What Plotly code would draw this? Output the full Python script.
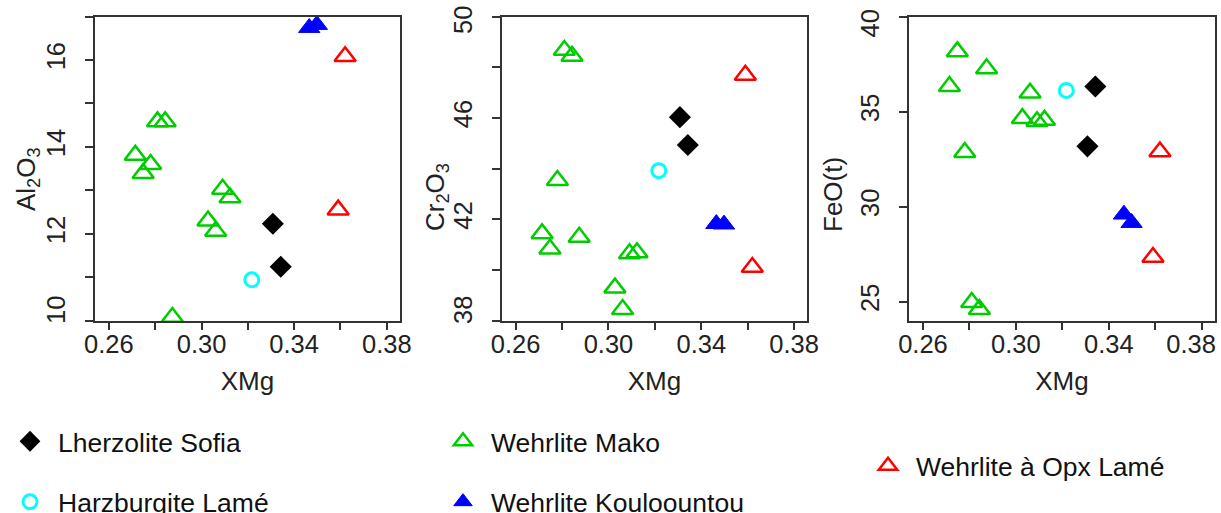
import plotly.graph_objects as go

# ---------------- data ----------------
groups = ["Lherzolite Sofia", "Harzburgite Lamé", "Wehrlite Mako",
          "Wehrlite Kouloountou", "Wehrlite à Opx Lamé"]

sofia_xmg = [0.3308, 0.3342]
sofia_al = [12.23, 11.24]
sofia_cr = [46.03, 44.93]
sofia_fe = [33.17, 36.32]

harz_xmg = [0.3217]
harz_al = [10.94]
harz_cr = [43.92]
harz_fe = [36.11]

mako_xmg = [0.2714, 0.2748, 0.2780, 0.2810, 0.2843, 0.2874, 0.3028, 0.3061, 0.3091, 0.3123]
mako_al = [13.81, 13.39, 13.60, 14.58, 14.58, 10.08, 12.30, 12.06, 13.03, 12.83]
mako_cr = [41.44, 40.83, 43.54, 48.67, 48.44, 41.30, 39.30, 38.45, 40.65, 40.69]
mako_fe = [36.33, 38.15, 32.86, 24.97, 24.60, 37.26, 34.64, 35.98, 34.48, 34.55]

koul_xmg = [0.3465, 0.3498]
koul_al = [16.74, 16.81]
koul_cr = [41.82, 41.80]
koul_fe = [29.59, 29.15]

opx_xmg = [0.3590, 0.3620]
opx_al = [12.55, 16.08]
opx_cr = [47.69, 40.11]
opx_fe = [27.34, 32.89]

x_tickvals = [0.26, 0.28, 0.30, 0.32, 0.34, 0.36, 0.38]
x_ticktext = ["0.26", "", "0.30", "", "0.34", "", "0.38"]
al_tickvals = [10, 11, 12, 13, 14, 15, 16, 17]
al_ticktext = ["10", "", "12", "", "14", "", "16", ""]
cr_tickvals = [38, 40, 42, 44, 46, 48, 50]
cr_ticktext = ["38", "", "42", "", "46", "", "50"]
fe_tickvals = [25, 30, 35, 40]
fe_ticktext = ["25", "30", "35", "40"]

y_titles = ["Al<sub>2</sub>O<sub>3</sub>", "Cr<sub>2</sub>O<sub>3</sub>", "FeO(t)"]
x_title = "XMg"

# ---------------- styles ----------------
FONT = "Liberation Sans, Arial, sans-serif"
NB = "\u00a0"
styles = {
    "Lherzolite Sofia": dict(symbol="diamond", size=17, color="black",
                             line=dict(width=0)),
    "Harzburgite Lamé": dict(symbol="circle-open", size=14, color="#00FFFF",
                             line=dict(width=3, color="#00FFFF")),
    "Wehrlite Mako": dict(symbol="triangle-up-open", size=18.5, color="#00CD00",
                          line=dict(width=2.5, color="#00CD00")),
    "Wehrlite Kouloountou": dict(symbol="triangle-up", size=18.5, color="#0000FF",
                                 line=dict(width=1, color="#0000FF")),
    "Wehrlite à Opx Lamé": dict(symbol="triangle-up-open", size=18.5, color="#FF0000",
                                line=dict(width=2.5, color="#FF0000")),
}
legend_of = {
    "Lherzolite Sofia": "legend", "Harzburgite Lamé": "legend",
    "Wehrlite Mako": "legend2", "Wehrlite Kouloountou": "legend2",
    "Wehrlite à Opx Lamé": "legend3",
}

data = {
    "Lherzolite Sofia": (sofia_xmg, [sofia_al, sofia_cr, sofia_fe]),
    "Harzburgite Lamé": (harz_xmg, [harz_al, harz_cr, harz_fe]),
    "Wehrlite Mako": (mako_xmg, [mako_al, mako_cr, mako_fe]),
    "Wehrlite Kouloountou": (koul_xmg, [koul_al, koul_cr, koul_fe]),
    "Wehrlite à Opx Lamé": (opx_xmg, [opx_al, opx_cr, opx_fe]),
}

fig = go.Figure()
axis_ids = [("x", "y"), ("x2", "y2"), ("x3", "y3")]
for p, (xa, ya) in enumerate(axis_ids):
    for g in groups:
        xs, ys = data[g]
        fig.add_trace(go.Scatter(
            x=xs, y=ys[p], mode="markers", name=g, xaxis=xa, yaxis=ya,
            marker=styles[g], cliponaxis=False, legendgroup=g,
            showlegend=(p == 0), legend=legend_of[g]))


def pad_y(labels, lo=0, hi=0):
    """Nudge end labels inward (rotated labels read bottom-to-top)."""
    out = list(labels)
    out[0] = NB * lo + out[0]
    out[-1] = out[-1] + NB * hi
    return out


W, H = 1221, 513
x_domains = [(95 / W, 400 / W), (501.7 / W, 807.3 / W), (909 / W, 1215 / W)]
y_domain = (1 - 320.7 / H, 1 - 16.5 / H)
xr = [0.2540, 0.3857]
y_ranges = [[10, 17], [38, 50], [24, 40]]
y_ticks = [(al_tickvals, pad_y(al_ticktext, lo=2)),
           (cr_tickvals, pad_y(cr_ticktext, lo=2, hi=2)),
           (fe_tickvals, pad_y(fe_ticktext, hi=3))]
x_ticks = [x_ticktext, x_ticktext, x_ticktext[:-1] + [x_ticktext[-1] + NB * 3]]
# y-title centres (px)
ytitle_pos = [(28, 179), (436, 197), (833, 195)]

TICKF = dict(family=FONT, size=25.5, color="#222")
TITLEF = dict(family=FONT, size=26, color="#222")
common = dict(showline=True, linecolor="#333", linewidth=1.5, mirror=True,
              ticks="outside", ticklen=8, tickwidth=1.5, tickcolor="#333",
              showgrid=False, zeroline=False, automargin=False,
              ticklabeloverflow="allow", tickfont=TICKF)

layout = dict(width=W, height=H, margin=dict(l=0, r=0, t=0, b=0, autoexpand=False),
              paper_bgcolor="white", plot_bgcolor="white",
              font=dict(family=FONT, size=25, color="#222"))
annotations = []
for i in range(3):
    sx = "" if i == 0 else str(i + 1)
    layout["xaxis" + sx] = dict(common, domain=list(x_domains[i]), range=xr,
                                anchor="y" + sx, tickmode="array",
                                tickvals=x_tickvals, ticktext=x_ticks[i],
                                ticklabelstandoff=-8,
                                title=dict(text=x_title, standoff=15, font=TITLEF))
    layout["yaxis" + sx] = dict(common, domain=list(y_domain), range=y_ranges[i],
                                anchor="x" + sx, tickmode="array",
                                tickvals=y_ticks[i][0], ticktext=y_ticks[i][1],
                                tickangle=-90, ticklabelstandoff=10)
    tx, ty = ytitle_pos[i]
    annotations.append(dict(text=y_titles[i], xref="paper", yref="paper",
                            x=tx / W, y=1 - ty / H, xanchor="center", yanchor="middle",
                            textangle=-90, showarrow=False, font=TITLEF))
layout["annotations"] = annotations

leg_common = dict(font=dict(family=FONT, size=26.5, color="#111"), bgcolor="rgba(0,0,0,0)",
                  borderwidth=0, itemwidth=46, tracegroupgap=23,
                  orientation="v", xanchor="left", yanchor="top",
                  itemclick=False, itemdoubleclick=False)
layout["legend"] = dict(leg_common, x=2 / W, y=1 - 417.5 / H)
layout["legend2"] = dict(leg_common, x=435 / W, y=1 - 417.5 / H)
layout["legend3"] = dict(leg_common, x=860 / W, y=1 - 442 / H)
fig.update_layout(**layout)

fig.write_html("out.html", config={"displayModeBar": False},
               post_script="document.body.style.margin='0px';")
